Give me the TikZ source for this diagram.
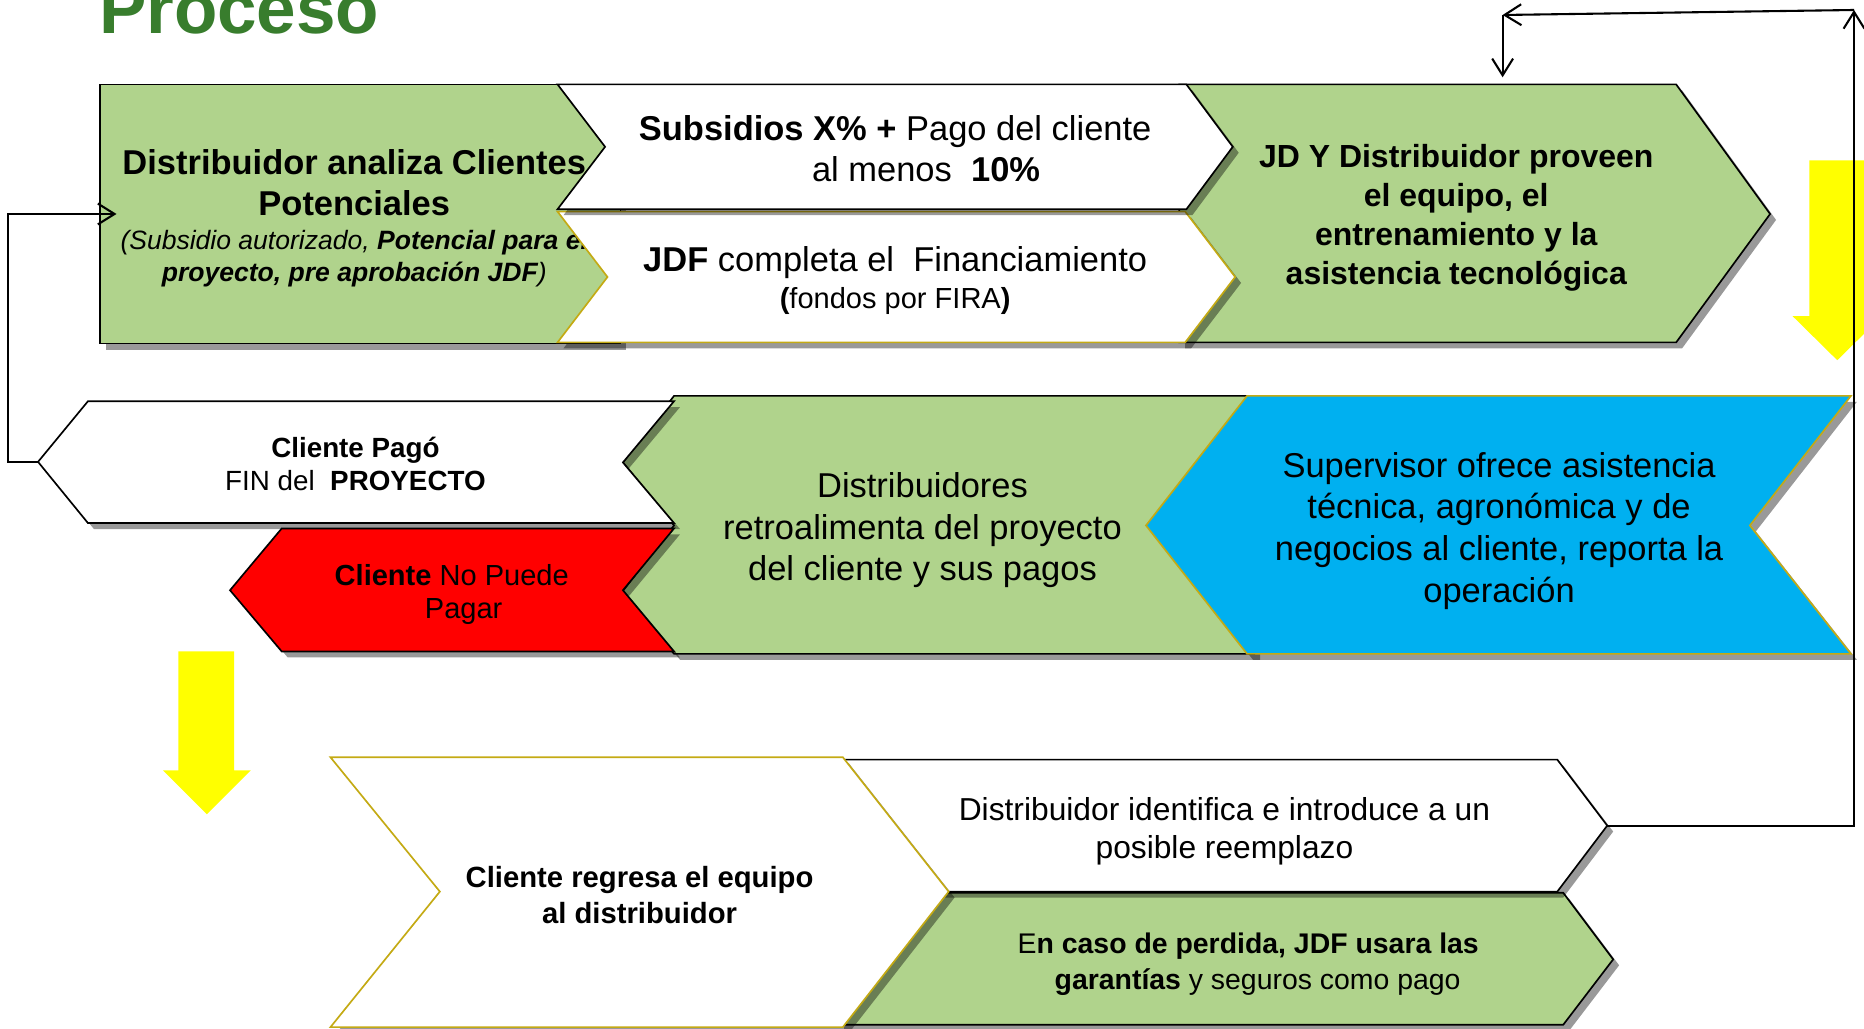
\documentclass[tikz,border=0pt]{standalone}
\usepackage{fontspec}
\setmainfont{Liberation Sans}
\usepackage{tikz}
\usetikzlibrary{positioning,shadows,arrows.meta}

\definecolor{leafgreen}{RGB}{176,211,140}
\definecolor{skyblue}{RGB}{0,176,240}
\definecolor{titlegreen}{RGB}{56,125,45}
\definecolor{goldline}{RGB}{196,170,20}
\definecolor{arrowyellow}{RGB}{255,255,0}

\tikzset{
  panel/.style={line width=0.8pt, line join=miter,
    drop shadow={shadow xshift=1mm, shadow yshift=-1mm, opacity=0.4, fill=black}},
  greenpanel/.style={panel, fill=leafgreen, draw=black},
  whitepanel/.style={panel, fill=white, draw=black},
  goldpanel/.style={panel, fill=white, draw=goldline},
  bluepanel/.style={panel, fill=skyblue, draw=goldline},
  redpanel/.style={panel, fill=red, draw=black},
  lbl/.style={align=center, inner sep=0pt, font=\fontsize{16.5}{19.9}\selectfont},
  conn/.style={line width=1pt, -{Straight Barb[length=8pt,width=10pt]}}
}

\begin{document}
\begin{tikzpicture}[x=0.2mm, y=-0.2mm]
\useasboundingbox (0,0) rectangle (1568,865);

\filldraw[greenpanel] (84,71) -- (522,71) -- (522,289) -- (84,289) -- cycle;
\node[lbl] (analiza) at (298,183.5) {\textbf{Distribuidor analiza Clientes}\\
  \textbf{Potenciales}\\[-4pt]
  {\fontsize{12.7}{15.4}\selectfont\itshape (Subsidio autorizado, \textbf{Potencial para el}}\\[-4.4pt]
  {\fontsize{12.7}{15.4}\selectfont\itshape\textbf{proyecto, pre aprobación JDF})}};
\coordinate (analizain) at (98,180);

\filldraw[greenpanel] (992,71) -- (1410,71) -- (1489,180) -- (1410,288) -- (992,288) -- cycle;
\node[lbl, font=\fontsize{15.3}{18.7}\selectfont\bfseries] (proveen) at (1225,183)
  {JD Y Distribuidor proveen\\el equipo, el\\entrenamiento y la\\asistencia tecnológica};
\coordinate (proveenin) at (1264,65);

\filldraw[goldpanel] (469,178) -- (997,178) -- (1039,233) -- (997,288) -- (469,288) -- (511,233) -- cycle;
\node[lbl] (jdf) at (753,236) {\textbf{JDF} completa el\ \ Financiamiento\\[-2.3pt]
  {\fontsize{13.9}{17}\selectfont\textbf{(}fondos por FIRA\textbf{)}}};

\filldraw[whitepanel] (469,71) -- (998,71) -- (1037,123.5) -- (998,176) -- (469,176) -- (509,123.5) -- cycle;
\node[lbl] (subsidio) at (753,125) {\textbf{Subsidios X\% +} Pago del cliente\\\hspace*{29.6pt}al menos\ \ \textbf{10\%}};

\filldraw[greenpanel] (567,333) -- (1055,333) -- (1055,550) -- (567,550) -- (524,497) -- (567,442) -- (524,389) -- cycle;
\node[lbl] (retro) at (776,446) {Distribuidores\\retroalimenta del proyecto\\del cliente y sus pagos};

\filldraw[bluepanel] (1049,333) -- (1557,333) -- (1472,442) -- (1557,550) -- (1049,550) -- (964,442) -- cycle;
\node[lbl] (supervisor) at (1261,446.5) {Supervisor ofrece asistencia\\técnica, agronómica y de\\negocios al cliente, reporta la\\operación};

\filldraw[redpanel] (237,444.5) -- (567,444.5) -- (524,496.5) -- (567,548) -- (237,548) -- (193.5,496.5) -- cycle;
\node[lbl, font=\fontsize{13.9}{15.9}\selectfont] (nopuede) at (380,500) {\textbf{Cliente} No Puede\\\hspace*{11.4pt}Pagar};

\filldraw[whitepanel] (74,337.5) -- (567,337.5) -- (524,389) -- (567,440) -- (74,440) -- (32,388.5) coordinate (pagotip) -- cycle;
\node[lbl, font=\fontsize{13.3}{15.9}\selectfont] (pago) at (299,390) {\textbf{Cliente Pagó}\\FIN del\ \ \textbf{PROYECTO}};

\filldraw[greenpanel] (705,751) -- (1315,751) -- (1357,807) -- (1315,862) -- (705,862) -- cycle;
\node[lbl, font=\fontsize{13.6}{17.1}\selectfont] (perdida) at (1050,811)
  {E\textbf{n caso de perdida, JDF usara las}\\\hspace*{9pt}\textbf{garantías} y seguros como pago};

\filldraw[whitepanel] (705,639) -- (1310,639) -- (1352,694.5) coordinate (reemplazotip) -- (1310,750) -- (705,750) -- cycle;
\node[lbl, font=\fontsize{15.2}{18.2}\selectfont] (reemplazo) at (1030,699)
  {Distribuidor identifica e introduce a un\\posible reemplazo};

\filldraw[goldpanel] (278,637) -- (709,637) -- (798,750) -- (709,864) -- (278,864) -- (370,750) -- cycle;
\node[lbl, font=\fontsize{14}{17}\selectfont\bfseries] (regresa) at (538,753) {Cliente regresa el equipo\\al distribuidor};

\fill[arrowyellow] (150,548) -- (197,548) -- (197,648) -- (211,648) -- (174,685) -- (137,648) -- (150,648) -- cycle;
\fill[arrowyellow] (1522,135) -- (1569,135) -- (1569,266) -- (1583,266) -- (1545.5,303) -- (1508,266) -- (1522,266) -- cycle;

\coordinate (retorno) at (1559.6,8.4);
\coordinate (esquina) at (1264,12.6);
\draw[conn] (pagotip) -- ++(-25.6,0) |- (analizain);
\draw[conn] (reemplazotip) -| (retorno);
\draw[conn] (retorno) -- (esquina);
\draw[conn] (esquina) -- (proveenin);

\node[anchor=base west, inner sep=0pt, text=titlegreen, font=\fontsize{34}{40}\selectfont\bfseries] (titulo) at (83,28) {Proceso};
\end{tikzpicture}
\end{document}
